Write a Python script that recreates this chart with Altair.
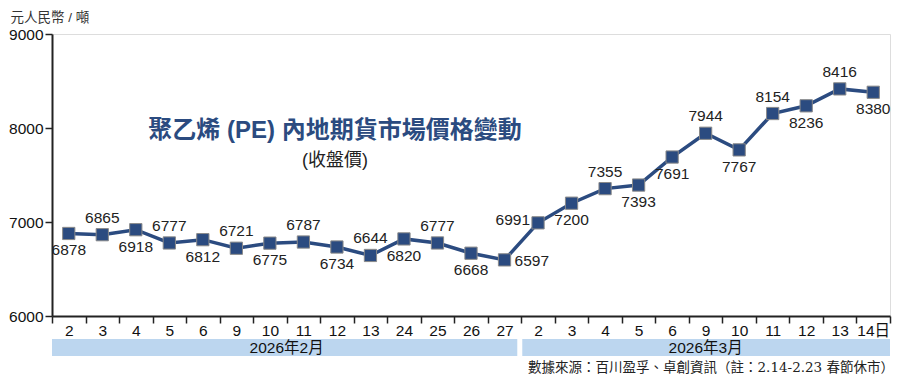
import altair as alt
import pandas as pd

# ---- data ----
day_labels = ["2", "3", "4", "5", "6", "9", "10", "11", "12", "13", "24", "25", "26", "27",
              "2", "3", "4", "5", "6", "9", "10", "11", "12", "13", "14日"]
prices = [6878, 6865, 6918, 6777, 6812, 6721, 6775, 6787, 6734, 6644, 6820, 6777, 6668, 6597,
          6991, 7200, 7355, 7393, 7691, 7944, 7767, 8154, 8236, 8416, 8380]
label_side = ["below", "above", "below", "above", "below", "above", "below", "above", "below",
              "above", "below", "above", "below", "right",
              "left", "below", "above", "below", "below", "above", "below", "above", "below",
              "above", "below"]
months = ["2026年2月", "2026年3月"]
month_start = [-0.5, 13.5]
month_end = [13.5, 24.5]
y_ticks = [6000, 7000, 8000, 9000]

title_text = "聚乙烯 (PE) 內地期貨市場價格變動"
subtitle_text = "(收盤價)"
unit_text = "元人民幣 / 噸"
source_text = "數據來源：百川盈孚、卓創資訊（註：2.14-2.23 春節休市）"

# ---- build table ----
df = pd.DataFrame({
    "idx": list(range(len(prices))),
    "price": prices,
    "side": label_side,
    "day": day_labels,
})
mdf = pd.DataFrame({"month": months, "start": month_start, "end": month_end})
mdf["mid"] = (mdf["start"] + mdf["end"]) / 2

W, H = 838, 282
PAD = {"left": 44, "right": 9, "top": 26, "bottom": 61}
BLUE = "#2b4b80"
FONT = "Liberation Sans, Noto Sans CJK TC"

lab_arr = "[" + ",".join("'" + s + "'" for s in day_labels) + "]"
tick_vals = [i / 2 - 0.5 for i in range(0, 2 * len(prices) + 1)]

xscale = alt.Scale(domain=[-0.5, len(prices) - 0.5], nice=False, zero=False)
yscale = alt.Scale(domain=[6000, 9000], nice=False, zero=False)

x_enc = alt.X(
    "idx:Q", scale=xscale,
    axis=alt.Axis(
        values=tick_vals, tickCount=len(tick_vals) + 10, title=None, grid=False,
        labelExpr=f"floor(datum.value) == datum.value ? {lab_arr}[datum.value] : ''",
        labelOverlap=False, labelFlush=False, labelBound=False,
        labelFontSize=15.5, labelColor="#111", labelFont=FONT, labelPadding=0,
        tickSize=7, tickWidth=1.5, tickColor="#222",
        tickOpacity={"condition": {"test": "floor(datum.value) == datum.value", "value": 0}, "value": 1},
        domainColor="#222", domainWidth=2,
    ),
)
y_enc = alt.Y(
    "price:Q", scale=yscale,
    axis=alt.Axis(
        values=y_ticks, grid=False, format="d",
        labelFontSize=15.5, labelColor="#111", labelFont=FONT, labelPadding=2,
        tickSize=7, tickWidth=1.5, tickColor="#222",
        domainColor="#222", domainWidth=2,
        title=unit_text, titleAngle=0, titleAlign="left", titleBaseline="alphabetic",
        titleX=-42, titleY=-13, titleFontSize=13.5, titleFontWeight="normal",
        titleColor="#333", titleFont=FONT,
    ),
)

base = alt.Chart(df)
line = base.mark_line(color=BLUE, strokeWidth=3.5).encode(x=x_enc, y=y_enc)
pts = base.mark_square(size=150, fill=BLUE, stroke="#8a8a8a", strokeWidth=1, opacity=1).encode(
    x="idx:Q", y="price:Q")

def lab(side, **kw):
    return base.transform_filter(alt.datum.side == side).mark_text(
        fontSize=15.5, font=FONT, color="#222", baseline="middle", **kw
    ).encode(x="idx:Q", y="price:Q", text=alt.Text("price:Q", format="d"))

labels = (lab("above", dy=-17) + lab("below", dy=17)
          + lab("left", align="right", dx=-8, dy=-3) + lab("right", align="left", dx=10, dy=1))

mbase = alt.Chart(mdf)
feb_rect = mbase.transform_filter(alt.datum.month == months[0]).mark_rect(
    color="#bcd6ef", x2Offset=-4).encode(
    x="start:Q", x2="end:Q", y=alt.value(H + 23), y2=alt.value(H + 40))
mar_rect = mbase.transform_filter(alt.datum.month == months[1]).mark_rect(
    color="#bcd6ef", xOffset=1).encode(
    x="start:Q", x2="end:Q", y=alt.value(H + 23), y2=alt.value(H + 40))
mtext = mbase.mark_text(fontSize=15.5, font=FONT, color="#111", baseline="middle").encode(
    x="mid:Q", y=alt.value(H + 32), text="month:N")

tdf = pd.DataFrame({"t": [title_text]})
sdf = pd.DataFrame({"t": [subtitle_text]})
srcdf = pd.DataFrame({"t": [source_text]})
title_m = alt.Chart(tdf).mark_text(fontSize=24, fontWeight="bold", color=BLUE, font=FONT,
                                   baseline="middle").encode(
    x=alt.value(283), y=alt.value(97), text="t:N")
sub_m = alt.Chart(sdf).mark_text(fontSize=18, color="#222", font=FONT, baseline="middle").encode(
    x=alt.value(283), y=alt.value(127), text="t:N")
src_m = alt.Chart(srcdf).mark_text(fontSize=13.5, color="#222",
                                   font="DejaVu Serif, Noto Sans CJK TC",
                                   align="right", baseline="middle").encode(
    x=alt.value(W + 4), y=alt.value(H + 52), text="t:N")

chart = alt.layer(
    line, pts, labels, feb_rect, mar_rect, mtext, title_m, sub_m, src_m
).properties(
    width=W, height=H,
    autosize=alt.AutoSizeParams(type="none"),
    padding=PAD,
).configure_view(stroke=None).configure(background="white")

chart.save("out.html", embed_options={"renderer": "svg", "actions": False})
